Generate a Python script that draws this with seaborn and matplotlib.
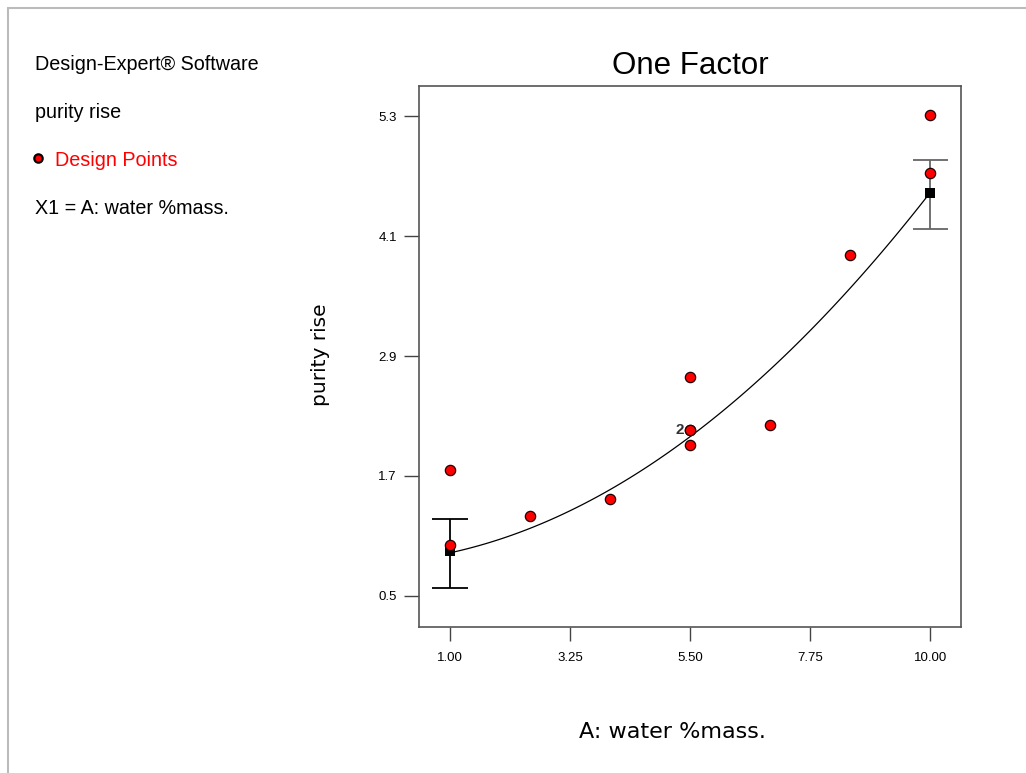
import numpy as np
import pandas as pd
import matplotlib
matplotlib.use("Agg")
import matplotlib.pyplot as plt
import seaborn as sns
from matplotlib.lines import Line2D

# ---- data ----
water = [1.0, 1.0, 2.5, 4.0, 5.5, 5.5, 5.5, 5.5, 7.0, 8.5, 10.0, 10.0]
purity = [1.76, 1.01, 1.30, 1.47, 2.69, 2.16, 2.16, 2.01, 2.21, 3.91, 5.31, 4.73]

curve_x = [1.0, 2.5, 4.0, 5.5, 7.0, 8.5, 10.0]
curve_y = [0.94, 1.17, 1.55, 2.10, 2.76, 3.60, 4.52]

end_x = [1.0, 10.0]
end_pred = [0.95, 4.53]
end_low = [0.58, 4.17]
end_high = [1.27, 4.86]

x_ticks = [1.00, 3.25, 5.50, 7.75, 10.00]
x_ticklabels = ["1.00", "3.25", "5.50", "7.75", "10.00"]
y_ticks = [0.5, 1.7, 2.9, 4.1, 5.3]
y_ticklabels = ["0.5", "1.7", "2.9", "4.1", "5.3"]

info_lines = ["Design-Expert® Software", "purity rise", "Design Points", "X1 = A: water %mass."]

sns.set_style("white")
plt.rcParams["font.family"] = ["Liberation Sans", "DejaVu Sans"]
plt.rcParams["text.color"] = "black"
plt.rcParams["axes.labelcolor"] = "black"
plt.rcParams["xtick.labelcolor"] = "black"
plt.rcParams["ytick.labelcolor"] = "black"

fig = plt.figure(figsize=(10.26, 7.73), dpi=100)
ax = fig.add_axes([0.4084, 0.1889, 0.5283, 0.6998])

df = pd.DataFrame({"water": water, "purity": purity})
cdf = pd.DataFrame({"x": curve_x, "y": curve_y})

# smooth fitted curve through the read model values
sns.regplot(data=cdf, x="x", y="y", order=2, ci=None, scatter=False, truncate=True,
            line_kws=dict(color="black", lw=0.9), ax=ax)

# error bars (LSD bars) at the ends
for i, (xe, lo, hi) in enumerate(zip(end_x, end_low, end_high)):
    col = "black" if i == 0 else "#666666"
    ax.vlines(xe, lo, hi, color=col, lw=1.3, zorder=2)
    ax.hlines([lo, hi], xe - 0.33, xe + 0.33, color=col, lw=1.3, zorder=2)

# predicted points (black squares)
sns.scatterplot(x=end_x, y=end_pred, marker="s", color="black", s=60,
                edgecolor="black", linewidth=0, zorder=3, ax=ax)

# design points
sns.scatterplot(data=df, x="water", y="purity", color="red", s=55,
                edgecolor="#220000", linewidth=0.9, zorder=4, ax=ax)

ax.text(5.38, 2.16, "2", ha="right", va="center", fontsize=11,
        fontweight="bold", color="#333333")

ax.set_xlim(0.42, 10.58)
ax.set_ylim(0.19, 5.60)
ax.set_xticks(x_ticks)
ax.set_xticklabels(x_ticklabels)
ax.set_yticks(y_ticks)
ax.set_yticklabels(y_ticklabels)
ax.tick_params(axis="x", direction="out", length=10, width=1, color="#444444",
               labelsize=9.5, pad=8, labelcolor="black")
ax.tick_params(axis="y", direction="out", length=11, width=1, color="#444444",
               labelsize=9.5, pad=5, labelcolor="black")
ax.xaxis.set_ticks_position("bottom")
ax.yaxis.set_ticks_position("left")
for sp in ax.spines.values():
    sp.set_color("#555555")
    sp.set_linewidth(1.2)
    sp.set_visible(True)

ax.set_xlabel("A: water %mass.", fontsize=16, family="DejaVu Sans", color="black")
ax.set_ylabel("purity rise", fontsize=14.5, family="DejaVu Sans", color="black")
ax.xaxis.set_label_coords((672 - 419) / (961 - 419), -(732 - 627) / (627 - 86))
ax.yaxis.set_label_coords(-(419 - 320) / (961 - 419), (627 - 355) / (627 - 86))
ax.xaxis.label.set_va("center")
ax.yaxis.label.set_va("center")
ax.set_title("One Factor", fontsize=22.5, pad=9, color="black")

# info panel
fs = 14.2
fig.text(35 / 1026, 1 - 64 / 773, info_lines[0], fontsize=fs, va="center")
fig.text(35 / 1026, 1 - 112 / 773, info_lines[1], fontsize=fs, va="center")
fig.add_artist(Line2D([38 / 1026], [1 - 158 / 773], marker="o", markersize=6,
                      markerfacecolor="red", markeredgecolor="black",
                      markeredgewidth=1.6, transform=fig.transFigure))
fig.text(55 / 1026, 1 - 160 / 773, info_lines[2], fontsize=fs, va="center", color="red")
fig.text(35 / 1026, 1 - 209 / 773, info_lines[3], fontsize=fs, va="center")

# light frame (top and left)
fig.add_artist(Line2D([8 / 1026, 1.0], [1 - 8 / 773, 1 - 8 / 773], color="#bbbbbb",
                      lw=1.5, transform=fig.transFigure))
fig.add_artist(Line2D([8 / 1026, 8 / 1026], [0, 1 - 8 / 773], color="#bbbbbb",
                      lw=1.5, transform=fig.transFigure))

fig.savefig("out.png", dpi=100)
